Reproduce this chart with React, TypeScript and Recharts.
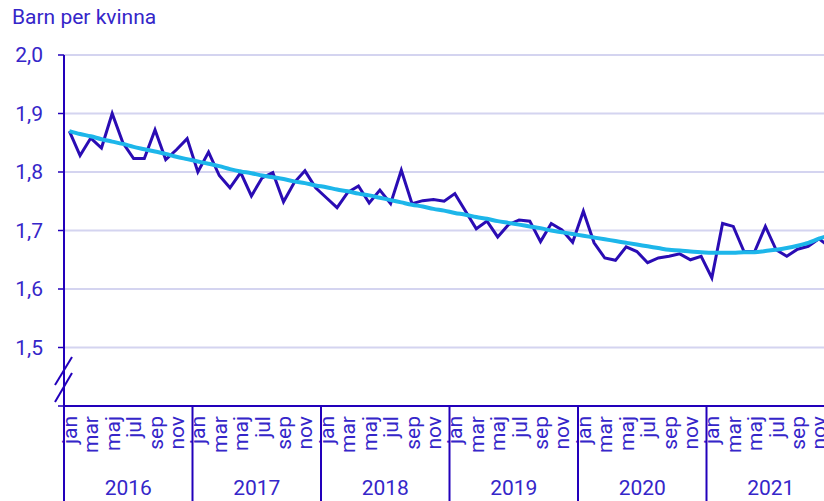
import React from "react";
import { LineChart, Line, XAxis, YAxis, CartesianGrid } from "recharts";

const months = ["jan", "feb", "mar", "apr", "maj", "jun", "jul", "aug", "sep", "okt", "nov", "dec"];
const years = ["2016", "2017", "2018", "2019", "2020", "2021"];

// summerad fruktsamhet per månad, jan 2016 - dec 2021
const tfr2016 = [1.870, 1.828, 1.858, 1.841, 1.900, 1.850, 1.823, 1.823, 1.872, 1.821, 1.838, 1.857];
const tfr2017 = [1.800, 1.834, 1.794, 1.773, 1.799, 1.759, 1.790, 1.799, 1.749, 1.782, 1.802, 1.773];
const tfr2018 = [1.756, 1.739, 1.765, 1.776, 1.747, 1.769, 1.746, 1.803, 1.746, 1.751, 1.753, 1.750];
const tfr2019 = [1.763, 1.733, 1.703, 1.716, 1.689, 1.710, 1.718, 1.716, 1.681, 1.712, 1.701, 1.680];
const tfr2020 = [1.733, 1.679, 1.653, 1.649, 1.672, 1.664, 1.645, 1.653, 1.656, 1.660, 1.650, 1.656];
const tfr2021 = [1.619, 1.712, 1.707, 1.664, 1.664, 1.707, 1.667, 1.656, 1.668, 1.673, 1.686, 1.672];

// trendlinje (ljusblå)
const trend = [
  1.870, 1.865, 1.861, 1.856, 1.852, 1.848, 1.843, 1.839, 1.835, 1.831, 1.826, 1.822,
  1.818, 1.814, 1.810, 1.805, 1.801, 1.798, 1.794, 1.791, 1.788, 1.784, 1.781, 1.777,
  1.774, 1.770, 1.767, 1.763, 1.760, 1.756, 1.752, 1.748, 1.744, 1.741, 1.737, 1.734,
  1.730, 1.727, 1.723, 1.720, 1.716, 1.713, 1.710, 1.707, 1.704, 1.700, 1.697, 1.694,
  1.691, 1.688, 1.685, 1.682, 1.679, 1.676, 1.673, 1.670, 1.667, 1.666, 1.664, 1.663,
  1.662, 1.662, 1.662, 1.663, 1.663, 1.665, 1.667, 1.670, 1.674, 1.679, 1.686, 1.692,
];

const yTicks = [1.4, 1.5, 1.6, 1.7, 1.8, 1.9, 2.0];

const values = [...tfr2016, ...tfr2017, ...tfr2018, ...tfr2019, ...tfr2020, ...tfr2021];
const data = values.map((v, i) => ({ idx: i, tfr: v, trend: trend[i] }));

const TEXT = "#3526c9";
const AXIS = "#2200bb";
const FONT = "Roboto, 'Noto Sans', sans-serif";
const FS = 21;

const CHART_W = 840;
const PLOT_LEFT = 64;
const PLOT_RIGHT = 835;
const BW = (PLOT_RIGHT - PLOT_LEFT) / data.length;

function MonthTick(props: any) {
  const { x, y, payload } = props;
  const i = Number(payload.value);
  const m = i % 12;
  return (
    <g>
      {m % 2 === 0 && (
        <text
          x={x}
          y={y + 10}
          transform={`rotate(-90, ${x}, ${y + 10})`}
          textAnchor="end"
          dy="0.36em"
          fontSize={FS}
          fontFamily={FONT}
          fill={TEXT}
        >
          {months[m]}
        </text>
      )}
      {m === 0 && (
        <>
          <line x1={x - BW / 2} x2={x - BW / 2} y1={y} y2={501} stroke={AXIS} strokeWidth={2} />
          <text
            x={x - BW / 2 + 6 * BW}
            y={495}
            textAnchor="middle"
            fontSize={FS}
            fontFamily={FONT}
            fill={TEXT}
          >
            {years[Math.floor(i / 12)]}
          </text>
        </>
      )}
    </g>
  );
}

export default function App() {
  return (
    <div
      style={{
        position: "fixed",
        left: 0,
        top: 0,
        width: 824,
        height: 501,
        overflow: "hidden",
        background: "#fff",
        fontFamily: FONT,
      }}
    >
      <div style={{ position: "absolute", left: 12, top: 5, fontSize: FS, color: TEXT }}>
        Barn per kvinna
      </div>
      <LineChart
        width={CHART_W}
        height={501}
        data={data}
        margin={{ top: 55, right: CHART_W - PLOT_RIGHT, bottom: 0, left: 0 }}
      >
        <CartesianGrid vertical={false} stroke="#d4d4f0" strokeWidth={2} />
        <XAxis
          dataKey="idx"
          type="category"
          interval={0}
          height={95}
          padding={{ left: BW / 2, right: BW / 2 }}
          tickSize={0}
          tickMargin={0}
          tick={<MonthTick />}
          axisLine={{ stroke: AXIS, strokeWidth: 2 }}
          tickLine={false}
        />
        <YAxis
          type="number"
          domain={[1.4, 2.0]}
          ticks={yTicks}
          width={PLOT_LEFT}
          tickSize={6}
          tickMargin={15}
          tickFormatter={(v: number) => (Math.abs(v - 1.4) < 1e-6 ? "" : v.toFixed(1).replace(".", ","))}
          tick={{ fontSize: FS, fill: TEXT, fontFamily: FONT }}
          axisLine={{ stroke: AXIS, strokeWidth: 2 }}
          tickLine={{ stroke: AXIS, strokeWidth: 1.5 }}
        />
        <Line
          type="linear"
          dataKey="tfr"
          stroke="#2a0cb4"
          strokeWidth={3}
          dot={false}
          isAnimationActive={false}
        />
        <Line
          type="monotone"
          dataKey="trend"
          stroke="#1db6ea"
          strokeWidth={4}
          dot={false}
          isAnimationActive={false}
        />
      </LineChart>
      <svg
        width={30}
        height={60}
        style={{ position: "absolute", left: 45, top: 350 }}
      >
        <line x1={27} y1={7} x2={10} y2={35} stroke={AXIS} strokeWidth={2} />
        <line x1={27} y1={23} x2={10} y2={52} stroke={AXIS} strokeWidth={2} />
      </svg>
    </div>
  );
}
